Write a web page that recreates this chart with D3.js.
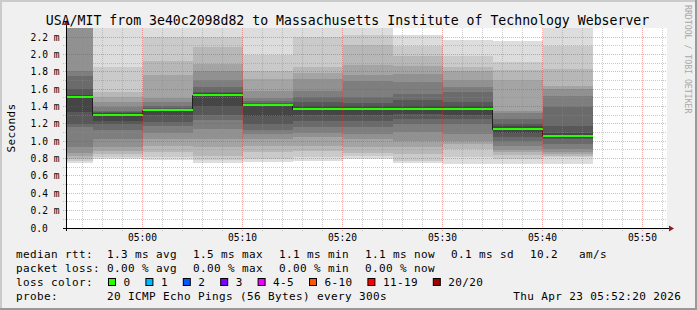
<!DOCTYPE html>
<html>
<head>
<meta charset="utf-8">
<script src="https://cdn.jsdelivr.net/npm/d3@7"></script>
<style>
  html, body { margin: 0; padding: 0; background: #f0f0f0; }
  svg { display: block; font-family: 'DejaVu Sans Mono', monospace; }
  .pre { white-space: pre; }
</style>
</head>
<body>
<div id="chart"></div>
<script>
const title = 'USA/MIT from 3e40c2098d82 to Massachusetts Institute of Technology Webserver'

// end time of each 5 minute step
const stepEnds = ['04:55', '05:00', '05:05', '05:10', '05:15', '05:20', '05:25', '05:30', '05:35', '05:40', '05:45']

// median rtt per step (ms)
const medians = [1.512, 1.302, 1.359, 1.532, 1.417, 1.374, 1.374, 1.374, 1.374, 1.144, 1.063]

// lost pings per step (out of 20)
const losses = [0, 0, 0, 0, 0, 0, 0, 0, 0, 0, 0]

// the 20 sorted ping times per step (ms)
const pings = [
  [0.745, 0.77, 0.795, 0.83, 0.861, 0.93, 1.16, 1.198, 1.332, 1.50, 1.524, 1.53, 1.601, 1.755, 1.812, 2.40, 2.50, 2.60, 2.70, 2.80],
  [0.80, 0.822, 0.853, 0.89, 0.93, 1.026, 1.129, 1.198, 1.236, 1.295, 1.31, 1.32, 1.332, 1.35, 1.39, 1.448, 1.514, 1.564, 1.85, 2.45],
  [0.78, 0.82, 0.88, 0.95, 1.02, 1.10, 1.18, 1.22, 1.30, 1.35, 1.365, 1.37, 1.38, 1.40, 1.455, 1.50, 1.76, 1.92, 2.20, 2.45],
  [0.745, 0.78, 0.83, 0.93, 1.03, 1.14, 1.24, 1.30, 1.41, 1.525, 1.54, 1.55, 1.57, 1.62, 1.70, 1.81, 1.89, 2.08, 2.20, 2.45],
  [0.76, 0.80, 0.87, 0.95, 1.025, 1.083, 1.13, 1.20, 1.294, 1.412, 1.422, 1.43, 1.44, 1.467, 1.50, 1.58, 1.72, 1.81, 1.99, 2.45],
  [0.776, 0.814, 0.89, 0.95, 1.044, 1.10, 1.16, 1.236, 1.30, 1.368, 1.38, 1.40, 1.448, 1.505, 1.58, 1.72, 1.79, 1.85, 2.20, 2.45],
  [0.79, 0.83, 0.86, 0.93, 1.02, 1.08, 1.16, 1.236, 1.30, 1.368, 1.38, 1.40, 1.44, 1.51, 1.69, 1.76, 1.88, 2.11, 2.22, 2.45],
  [0.745, 0.776, 0.853, 0.93, 1.006, 1.102, 1.198, 1.25, 1.313, 1.36, 1.388, 1.41, 1.47, 1.544, 1.678, 1.774, 1.87, 1.985, 2.10, 2.227],
  [0.737, 0.814, 0.91, 0.968, 1.00, 1.083, 1.198, 1.256, 1.30, 1.36, 1.388, 1.40, 1.448, 1.563, 1.62, 1.70, 1.812, 1.85, 1.985, 2.166],
  [0.733, 0.80, 0.84, 0.87, 0.90, 0.95, 1.00, 1.05, 1.10, 1.138, 1.15, 1.17, 1.20, 1.25, 1.33, 1.35, 1.70, 1.82, 1.916, 2.158],
  [0.737, 0.814, 0.83, 0.853, 0.88, 0.91, 0.97, 1.025, 1.04, 1.056, 1.07, 1.10, 1.18, 1.39, 1.524, 1.60, 1.64, 1.83, 2.10, 2.45]
]

const yMax = 2.304
const yTicks = [0, 0.2, 0.4, 0.6, 0.8, 1.0, 1.2, 1.4, 1.6, 1.8, 2.0, 2.2]

const lossColors = [
  ['0', '#26ff00'], ['1', '#00b8ff'], ['2', '#0059ff'], ['3', '#7e00ff'],
  ['4-5', '#f000ff'], ['6-10', '#ff5500'], ['11-19', '#ff0000'], ['20/20', '#a10000']
]

const rttStats = [['1.3', 'avg'], ['1.5', 'max'], ['1.1', 'min'], ['1.1', 'now'], ['0.1', 'sd']]
const amPerSec = '10.2'
const lossStats = [['0.00', 'avg'], ['0.00', 'max'], ['0.00', 'min'], ['0.00', 'now']]
const probeText = '20 ICMP Echo Pings (56 Bytes) every 300s'
const stampText = 'Thu Apr 23 05:52:20 2026'

const W = 697, H = 310
const pL = 67, pR = 667, pT = 28, pB = 228
const charW = 7

const day = d => new Date(2026, 3, 23, +d.split(':')[0], +d.split(':')[1], 0)
const tStart = new Date(2026, 3, 23, 4, 52, 20)
const tEnd = new Date(2026, 3, 23, 5, 52, 20)

const x = d3.scaleTime().domain([tStart, tEnd]).range([pL - 1, pR - 1])
const y = d3.scaleLinear().domain([0, yMax]).range([pB, pT])

const svg = d3.select('#chart').append('svg')
  .attr('width', W)
  .attr('height', H)

// canvas and shaded frame
svg.append('rect').attr('width', W).attr('height', H).attr('fill', '#f0f0f0')
svg.append('path').attr('d', `M0,0H${W}V2H2V${H}H0Z`).attr('fill', '#cbcbcb')
svg.append('path').attr('d', `M${W},0V${H}H0V${H - 2}H${W - 2}V0Z`).attr('fill', '#999999')

svg.append('rect')
  .attr('x', pL).attr('y', pT)
  .attr('width', pR - pL).attr('height', pB - pT)
  .attr('fill', '#ffffff')

svg.append('clipPath').attr('id', 'plot')
  .append('rect')
  .attr('x', pL).attr('y', pT)
  .attr('width', pR - pL).attr('height', pB - pT)

// smoke: layer i spans ping i .. ping (21-i), darker toward the middle
const steps = stepEnds.map((e, i) => {
  const end = day(e)
  return { start: d3.timeMinute.offset(end, -5), end: end, pings: pings[i], median: medians[i], loss: losses[i] }
})

const half = 10
const smoke = []
steps.forEach(s => {
  for (let i = 1; i <= half; i++) {
    const c = Math.floor(190 / half * (half - i)) + 50
    smoke.push({ s: s, lo: s.pings[i - 1], hi: s.pings[20 - i], color: d3.rgb(c, c, c).formatHex() })
  }
})

const plot = svg.append('g').attr('clip-path', 'url(#plot)')

plot.selectAll('rect.smoke')
  .data(smoke)
  .join('rect')
  .attr('class', 'smoke')
  .attr('x', d => Math.floor(x(d.s.start)) + 1)
  .attr('width', d => Math.floor(x(d.s.end)) - Math.floor(x(d.s.start)))
  .attr('y', d => Math.round(y(d.hi)))
  .attr('height', d => Math.round(y(d.lo)) - Math.round(y(d.hi)))
  .attr('fill', d => d.color)

// grid
const grid = svg.append('g')
const px = v => Math.floor(v) + 0.5

const minorX = d3.timeMinute.every(2).range(tStart, tEnd).filter(t => t.getMinutes() % 10 !== 0)
const majorX = d3.timeMinute.every(10).range(tStart, tEnd)
const minorY = d3.range(1, 23, 2).map(v => v / 10)

grid.selectAll('line.minor-x')
  .data(minorX)
  .join('line')
  .attr('class', 'minor-x')
  .attr('x1', d => px(x(d))).attr('x2', d => px(x(d)))
  .attr('y1', pT).attr('y2', pB + 3)
  .attr('stroke', 'rgba(140,140,140,0.45)')
  .attr('stroke-dasharray', '1,1')

grid.selectAll('line.minor-y')
  .data(minorY)
  .join('line')
  .attr('class', 'minor-y')
  .attr('x1', pL - 4).attr('x2', pR)
  .attr('y1', d => px(y(d))).attr('y2', d => px(y(d)))
  .attr('stroke', 'rgba(140,140,140,0.45)')
  .attr('stroke-dasharray', '1,1')

grid.selectAll('line.major-x')
  .data(majorX)
  .join('line')
  .attr('class', 'major-x')
  .attr('x1', d => px(x(d))).attr('x2', d => px(x(d)))
  .attr('y1', pT).attr('y2', pB + 3)
  .attr('stroke', 'rgba(230,40,40,0.4)')
  .attr('stroke-dasharray', '1,1')

grid.selectAll('line.major-y')
  .data(yTicks.slice(1))
  .join('line')
  .attr('class', 'major-y')
  .attr('x1', pL - 4).attr('x2', pR)
  .attr('y1', d => px(y(d))).attr('y2', d => px(y(d)))
  .attr('stroke', 'rgba(230,40,40,0.4)')
  .attr('stroke-dasharray', '1,1')

// median: thin dark step line, then loss coloured segments
const last = steps[steps.length - 1]
const stepPts = steps.map(s => [s.start, s.median]).concat([[last.end, last.median]])
const line = d3.line()
  .x(d => Math.floor(x(d[0])) + 0.5)
  .y(d => Math.round(y(d[1])) + 0.5)
  .curve(d3.curveStepAfter)

plot.append('path')
  .attr('d', line(stepPts))
  .attr('fill', 'none')
  .attr('stroke', '#202020')
  .attr('stroke-width', 1)

const lossColor = n => {
  if (n === 0) return lossColors[0][1]
  if (n <= 3) return lossColors[n][1]
  if (n <= 5) return lossColors[4][1]
  if (n <= 10) return lossColors[5][1]
  if (n <= 19) return lossColors[6][1]
  return lossColors[7][1]
}

plot.selectAll('line.median')
  .data(steps)
  .join('line')
  .attr('class', 'median')
  .attr('x1', d => Math.floor(x(d.start)) + 1)
  .attr('x2', d => Math.floor(x(d.end)) + 1)
  .attr('y1', d => Math.round(y(d.median)))
  .attr('y2', d => Math.round(y(d.median)))
  .attr('stroke', d => lossColor(d.loss))
  .attr('stroke-width', 2)

// axes with arrows
svg.append('line')
  .attr('x1', pL - 0.5).attr('x2', pL - 0.5)
  .attr('y1', pB + 3).attr('y2', pT - 4)
  .attr('stroke', '#000')
svg.append('line')
  .attr('x1', pL - 4).attr('x2', pR + 4)
  .attr('y1', pB + 0.5).attr('y2', pB + 0.5)
  .attr('stroke', '#000')
svg.append('path')
  .attr('d', `M${pL - 3.5},${pT - 3}L${pL - 0.5},${pT - 8}L${pL + 2.5},${pT - 3}Z`)
  .attr('fill', '#8b1e1e')
svg.append('path')
  .attr('d', `M${pR + 2},${pB - 2.5}L${pR + 7},${pB + 0.5}L${pR + 2},${pB + 3.5}Z`)
  .attr('fill', '#8b1e1e')

// tick labels
svg.append('g').selectAll('text')
  .data(yTicks)
  .join('text')
  .attr('x', d => d === 0 ? 59.5 - 2 * 5.8 : 59.5)
  .attr('y', d => px(y(d)) + 3.3)
  .attr('text-anchor', 'end')
  .attr('font-size', 9.6)
  .attr('fill', '#000')
  .text(d => d === 0 ? '0.0' : d3.format('.1f')(d) + ' m')

svg.append('g').selectAll('text')
  .data(majorX)
  .join('text')
  .attr('x', d => px(x(d)))
  .attr('y', 240.7)
  .attr('text-anchor', 'middle')
  .attr('font-size', 9.6)
  .attr('fill', '#000')
  .text(d => d3.timeFormat('%H:%M')(d))

// titles
svg.append('text')
  .attr('x', 347.5).attr('y', 24.5)
  .attr('text-anchor', 'middle')
  .attr('font-size', 13.2)
  .attr('fill', '#000')
  .text(title)

svg.append('text')
  .attr('transform', 'translate(15,128) rotate(-90)')
  .attr('text-anchor', 'middle')
  .attr('font-size', 11)
  .attr('letter-spacing', 0.38)
  .attr('fill', '#000')
  .text('Seconds')

svg.append('text')
  .attr('transform', 'translate(685,5) rotate(90)')
  .attr('font-size', 8.2)
  .attr('fill', '#a8a8a8')
  .text('RRDTOOL / TOBI OETIKER')

// legend
const legend = svg.append('g')
  .attr('font-size', 11)
  .attr('letter-spacing', 0.38)
  .attr('fill', '#000')

const rows = [258, 272, 285.7, 299.7]
const labelX = 16, valueX = 107, gap = 16

const rowItems = (items, row) => {
  let cx = valueX
  items.forEach(t => {
    legend.append('text').attr('class', 'pre').attr('x', cx).attr('y', row).text(t)
    cx += t.length * charW + gap
  })
}

legend.append('text').attr('x', labelX).attr('y', rows[0]).text('median rtt:')
rowItems(rttStats.map(d => `${d[0]} ms ${d[1]}`).concat([`${amPerSec}   am/s`]), rows[0])

legend.append('text').attr('x', labelX).attr('y', rows[1]).text('packet loss:')
rowItems(lossStats.map(d => `${d[0]} % ${d[1]}`), rows[1])

legend.append('text').attr('x', labelX).attr('y', rows[2]).text('loss color:')
let bx = 108.5
lossColors.forEach(d => {
  legend.append('rect')
    .attr('x', bx).attr('y', 278.5)
    .attr('width', 7).attr('height', 7)
    .attr('fill', d[1])
    .attr('stroke', '#000')
  legend.append('text').attr('x', bx + 15).attr('y', rows[2]).text(d[0])
  bx += 15 + d[0].length * charW + 15.4
})

legend.append('text').attr('x', labelX).attr('y', rows[3]).text('probe:')
legend.append('text').attr('x', valueX).attr('y', rows[3]).text(probeText)
legend.append('text').attr('x', 681.3).attr('y', rows[3]).attr('text-anchor', 'end').text(stampText)
</script>
</body>
</html>
